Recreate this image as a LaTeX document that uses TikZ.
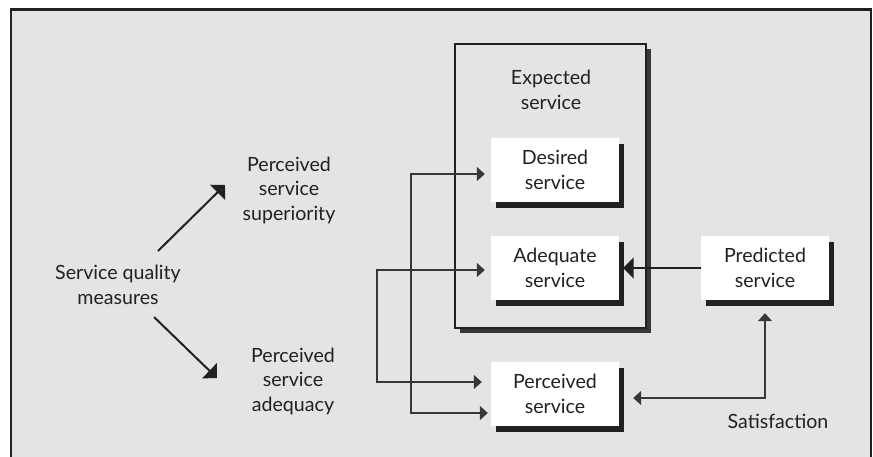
\documentclass[tikz,border=0pt]{standalone}
\usepackage{fontspec}
\setmainfont{Lato}
\usetikzlibrary{arrows.meta,shadows,calc}
\definecolor{bg}{HTML}{E4E4E4}
\definecolor{ink}{HTML}{232021}
\begin{document}
\begin{tikzpicture}[x=1pt,y=-1pt,
  font=\fontsize{19.6}{24.5}\selectfont,
  lbl/.style={align=center, text=ink, inner sep=0pt},
  box/.style={fill=white, minimum width=128pt, minimum height=64pt, inner sep=0pt,
    align=center, text=ink,
    drop shadow={shadow xshift=5pt, shadow yshift=-6pt, fill=ink, opacity=1}},
  bigbox/.style={draw=ink, line width=2pt, fill=bg, inner sep=0pt,
    drop shadow={shadow xshift=5pt, shadow yshift=-5pt, fill=black!78, opacity=1}},
  thick arrow/.style={draw=ink, line width=2pt, -{Triangle[length=10.5pt,width=21pt]}},
  conn/.style={draw=ink!90, line width=1.3pt},
  ctip/.tip={Triangle[length=8pt,width=14pt]}
]
\useasboundingbox (0,0) rectangle (873,456);
\fill[white] (0,0) rectangle (873,456);
\draw[draw=ink, line width=2.5pt, fill=bg] (11,9.5) rectangle (871,470);

% expected service container
\node[bigbox, minimum width=191pt, minimum height=284pt] (ex) at (550.5,186) {};
\node[lbl] (ext) at (551,90) {Expected\\service};

% boxes
\node[box] (ds) at (555,170) {Desired\\service};
\node[box] (as) at (555,268) {Adequate\\service};
\node[box] (ps) at (555,394) {Perceived\\service};
\node[box] (pr) at (765,268) {Predicted\\service};

% left labels
\node[lbl] (sq) at (118,285) {Service quality\\measures};
\node[lbl] (pss) at (289,190) {Perceived\\service\\superiority};
\node[lbl] (psa) at (293,381) {Perceived\\service\\adequacy};
\node[lbl] (sat) at (778,421) {Satisfaction};

% diagonal arrows
\coordinate (d1s) at (158,251);
\coordinate (d1e) at (225,185);
\coordinate (d2s) at (154,317);
\coordinate (d2e) at (217,378);
\draw[thick arrow] (d1s) -- (d1e);
\draw[thick arrow] (d2s) -- (d2e);

% predicted -> adequate
\draw[thick arrow, shorten >=4pt] (pr.west) -- (pr.west -| as.east);

% left connectors
\coordinate (v1t) at (411,174);
\coordinate (v1b) at (411,413);
\coordinate (v2t) at (377,270);
\coordinate (v2b) at (377,382);
\draw[conn, {ctip}-{ctip}] ([xshift=-6pt]ds.west |- v1t) -- (v1t) -- (v1b) -- ([xshift=-3pt]ps.west |- v1b);
\draw[conn, {ctip}-{ctip}] ([xshift=-6pt]as.west |- v2t) -- (v2t) -- (v2b) -- ([xshift=-9pt]ps.west |- v2b);

% satisfaction connector
\coordinate (sc) at (pr.south |- 0,398);
\draw[conn, {ctip}-{ctip}] ([yshift=-13pt]pr.south) -- (sc) -- ([xshift=14pt]ps.east |- sc);
\end{tikzpicture}
\end{document}
